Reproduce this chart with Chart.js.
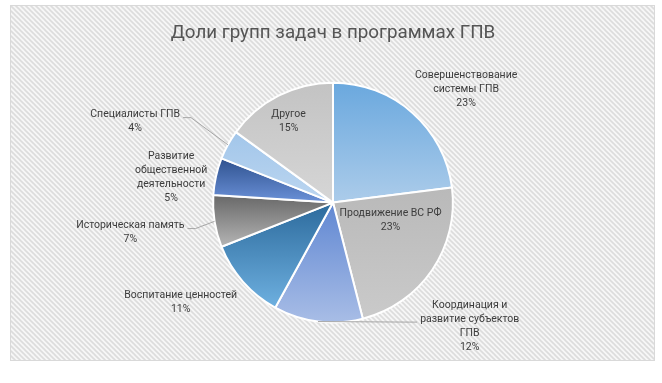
<!DOCTYPE html>
<html><head><meta charset="utf-8">
<script src="https://cdn.jsdelivr.net/npm/chart.js@4/dist/chart.umd.min.js"></script>
<style>html,body{margin:0;padding:0;background:#fff}#wrap{position:relative;width:662px;height:383px}</style>
</head><body><div id="wrap"><canvas id="c" width="662" height="383"></canvas></div>
<script>
// ---- data ----
const chartTitle = "Доли групп задач в программах ГПВ";
const categories = [
  ["Совершенствование", "системы ГПВ"],
  ["Продвижение ВС РФ"],
  ["Координация и", "развитие субъектов", "ГПВ"],
  ["Воспитание ценностей"],
  ["Историческая память"],
  ["Развитие", "общественной", "деятельности"],
  ["Специалисты ГПВ"],
  ["Другое"]
];
const shares = [23, 23, 12, 11, 7, 5, 4, 15];

// ---- styles ----
const gradientStops = [
  ["#6aa8de", "#acccea"],
  ["#b9b9b9", "#cacaca"],
  ["#6087d2", "#a8bde6"],
  ["#2c6a9c", "#6eb0e0"],
  ["#686868", "#b5b5b5"],
  ["#2f528f", "#6b91d8"],
  ["#a2c6ea", "#bcd6f0"],
  ["#c3c3c3", "#d6d6d6"]
];
// label block centre, in pie-radius units from the pie centre
const labelAnchors = [[1.11,-0.94],[0.48,0.15],[1.14,1.03],[-1.27,0.83],[-1.69,0.25],[-1.35,-0.21],[-1.65,-0.675],[-0.37,-0.68]];
// leader lines: which side of the text and which line they leave from
const leaders = {2: {side: "left", line: 1}, 4: {side: "right", line: 0}, 6: {side: "right", line: 0}};
const labelFont = "10.5px Roboto";
const labelColor = "#3d3d3d";
const lineH = 14;

function sliceGradient(ctx) {
  const chart = ctx.chart, a = chart.chartArea, i = ctx.dataIndex;
  if (!a) return gradientStops[i][0];
  const cx = (a.left + a.right) / 2, cy = (a.top + a.bottom) / 2;
  const r = (Math.min(a.width, a.height) - 2) / 2;
  const total = shares.reduce((s, v) => s + v, 0);
  let cum = 0; for (let k = 0; k < i; k++) cum += shares[k];
  const a0 = cum / total * 2 * Math.PI, a1 = (cum + shares[i]) / total * 2 * Math.PI;
  const ys = [cy, cy - r * Math.cos(a0), cy - r * Math.cos(a1)];
  if (a0 <= 0 + 1e-9) ys.push(cy - r);
  if (a0 < Math.PI && a1 > Math.PI) ys.push(cy + r);
  const y0 = Math.min(...ys), y1 = Math.max(...ys);
  const g = chart.ctx.createLinearGradient(0, y0, 0, y1 + 0.01);
  g.addColorStop(0, gradientStops[i][0]);
  g.addColorStop(1, gradientStops[i][1]);
  return g;
}

function makePattern() {
  const s = 5, c = document.createElement("canvas");
  c.width = s; c.height = s;
  const x = c.getContext("2d");
  x.fillStyle = "#f6f6f6"; x.fillRect(0, 0, s, s);
  x.strokeStyle = "#dcdcdc"; x.lineWidth = 1.6;
  for (let k = -1; k <= 1; k++) { x.beginPath(); x.moveTo(k * s - 1, -1); x.lineTo(k * s + s + 1, s + 1); x.stroke(); }
  return c;
}

const panelPlugin = {
  id: "panel",
  beforeDraw(chart) {
    const ctx = chart.ctx;
    ctx.save();
    ctx.fillStyle = "#ffffff"; ctx.fillRect(0, 0, chart.width, chart.height);
    ctx.fillStyle = ctx.createPattern(makePattern(), "repeat");
    ctx.fillRect(10, 5, 645, 356);
    ctx.strokeStyle = "#d9d9d9"; ctx.lineWidth = 1;
    ctx.strokeRect(10.5, 5.5, 644, 355);
    ctx.restore();
  }
};

const labelPlugin = {
  id: "sliceLabels",
  afterDatasetsDraw(chart) {
    const ctx = chart.ctx, meta = chart.getDatasetMeta(0);
    const total = shares.reduce((s, v) => s + v, 0);
    ctx.save();
    ctx.font = labelFont; ctx.textAlign = "center"; ctx.textBaseline = "middle";
    meta.data.forEach((arc, i) => {
      const lines = categories[i].concat([Math.round(shares[i] / total * 100) + "%"]);
      const r = arc.outerRadius;
      const bx = arc.x + labelAnchors[i][0] * r, by = arc.y + labelAnchors[i][1] * r;
      const top = by - (lines.length - 1) * lineH / 2;
      const ld = leaders[i];
      if (ld) {
        const mid = (arc.startAngle + arc.endAngle) / 2;
        const ex = arc.x + r * Math.cos(mid), ey = arc.y + r * Math.sin(mid);
        const w = ctx.measureText(lines[ld.line]).width;
        const ly = top + ld.line * lineH + 3;
        const sx = ld.side === "right" ? bx + w / 2 + 3 : bx - w / 2 - 3;
        const dir = ld.side === "right" ? 1 : -1;
        ctx.strokeStyle = "#a6a6a6"; ctx.lineWidth = 1;
        ctx.beginPath(); ctx.moveTo(sx, ly); ctx.lineTo(sx + dir * 8, ly); ctx.lineTo(ex, ey); ctx.stroke();
      }
      ctx.fillStyle = labelColor;
      lines.forEach((t, k) => ctx.fillText(t, bx, top + k * lineH));
    });
    ctx.restore();
  }
};

new Chart(document.getElementById("c"), {
  type: "pie",
  data: {
    labels: categories.map(c => c.join(" ")),
    datasets: [{ data: shares, backgroundColor: sliceGradient, borderColor: "#ffffff", borderWidth: 2 }]
  },
  options: {
    responsive: false, animation: false,
    layout: { padding: { top: 10, bottom: 59.5, left: 4, right: 0 } },
    plugins: {
      legend: { display: false }, tooltip: { enabled: false },
      title: { display: true, text: chartTitle, color: "#555555",
               font: { family: "Roboto", size: 18.8, weight: "normal" }, padding: { top: 11.7, bottom: 37.4 } }
    }
  },
  plugins: [panelPlugin, labelPlugin]
});
</script></body></html>
